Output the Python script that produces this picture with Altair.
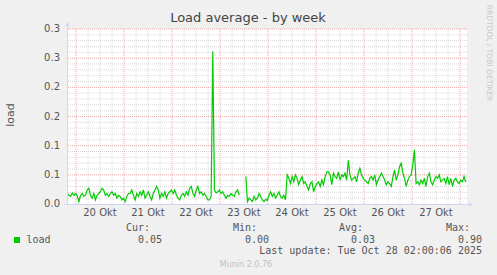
import json
import altair as alt
import pandas as pd

# ---- series values (load average, ~50 min steps) ----
load = [
    # 19-21 Okt
    0.018, 0.015, 0.013, 0.019, 0.015, 0.018, 0.014, 0.004, 0.015, 0.018,
    0.013, 0.015, 0.024, 0.027, 0.015, 0.010, 0.018, 0.007, 0.015, 0.018,
    0.021, 0.027, 0.024, 0.015, 0.018, 0.013, 0.018, 0.021, 0.015, 0.018,
    0.010, 0.015, 0.013, 0.007, 0.010, 0.004, 0.013, 0.018,
    # 21-22 Okt
    0.018, 0.024, 0.015, 0.007, 0.018, 0.013, 0.021, 0.015, 0.024, 0.010,
    0.015, 0.021, 0.013, 0.007, 0.018, 0.024, 0.030, 0.024, 0.010, 0.018,
    0.013, 0.021, 0.010, 0.018, 0.021, 0.024, 0.018, 0.024, 0.015, 0.010,
    0.007, 0.015, 0.018, 0.013, 0.021, 0.015, 0.027, 0.030, 0.018, 0.013,
    # 22-23 Okt (spike, gap)
    0.024, 0.030, 0.018, 0.021, 0.015, 0.018, 0.013, 0.007, 0.007, 0.013,
    0.262, 0.024, 0.019, 0.021, 0.024, 0.018, 0.021, 0.015, 0.010, 0.015,
    0.013, 0.018, 0.015, 0.013, 0.021, 0.024, 0.015, None, None, None,
    0.047, 0.004, 0.010, 0.007, 0.004, 0.013, 0.007, 0.010, 0.018, 0.013,
    # 23-25 Okt
    0.007, 0.004, 0.008, 0.006, 0.015, 0.021, 0.013, 0.018, 0.010, 0.015,
    0.021, 0.013, 0.010, 0.015, 0.007, 0.050, 0.044, 0.035, 0.047, 0.038,
    0.050, 0.044, 0.033, 0.041, 0.047, 0.035, 0.038, 0.030, 0.024, 0.035,
    0.038, 0.021, 0.030, 0.035, 0.038, 0.030, 0.041, 0.033, 0.047, 0.055,
    # 25-26 Okt
    0.055, 0.050, 0.033, 0.053, 0.047, 0.044, 0.055, 0.041, 0.050, 0.047,
    0.053, 0.041, 0.075, 0.050, 0.041, 0.044, 0.047, 0.038, 0.053, 0.061,
    0.050, 0.044, 0.041, 0.038, 0.035, 0.044, 0.047, 0.041, 0.050, 0.033,
    0.041, 0.047, 0.053, 0.047, 0.041, 0.033, 0.038, 0.035, 0.030, 0.047,
    # 26-28 Okt
    0.058, 0.041, 0.050, 0.064, 0.070, 0.053, 0.044, 0.030, 0.041, 0.047,
    0.050, 0.067, 0.093, 0.035, 0.038, 0.033, 0.041, 0.035, 0.044, 0.030,
    0.047, 0.053, 0.038, 0.033, 0.041, 0.047, 0.044, 0.050, 0.038, 0.041,
    0.044, 0.035, 0.047, 0.033, 0.044, 0.030, 0.041, 0.044, 0.038, 0.035,
    0.041, 0.038, 0.047, 0.038,
]
series_start = "2025-10-19 19:40"
series_end = "2025-10-28 02:50"

# ---- axes / labels ----
day_numbers = [20, 21, 22, 23, 24, 25, 26, 27]
day_labels = ["20 Okt", "21 Okt", "22 Okt", "23 Okt", "24 Okt", "25 Okt", "26 Okt", "27 Okt"]
midnight_days = [20, 21, 22, 23, 24, 25, 26, 27, 28]
minor_hours = [6, 12, 18]
y_ticks = [0.0, 0.05, 0.10, 0.15, 0.20, 0.25, 0.30]
y_tick_labels = ["0.0", "0.1", "0.1", "0.2", "0.2", "0.3", "0.3"]
y_major = [0.05, 0.10, 0.15, 0.20, 0.25, 0.30]
y_minor = [0.01, 0.02, 0.03, 0.04, 0.06, 0.07, 0.08, 0.09, 0.11, 0.12, 0.13, 0.14,
           0.16, 0.17, 0.18, 0.19, 0.21, 0.22, 0.23, 0.24, 0.26, 0.27, 0.28, 0.29]

title_text = "Load average - by week"
y_title = "load"
legend_name = "load"
legend_heads = ["Cur:", "Min:", "Avg:", "Max:"]
legend_values = ["0.05", "0.00", "0.03", "0.90"]
last_update = "Last update: Tue Oct 28 02:00:06 2025"
footer = "Munin 2.0.76"
side_text = "RRDTOOL / TOBI OETIKER"

# ---- styling ----
W, H = 400, 175
GREEN = "#00CC00"
AXISC = "#CFD6F8"
FONTC = "#555555"
SANS = "DejaVu Sans"
MONO = "DejaVu Sans Mono"

times = pd.date_range(series_start, series_end, periods=len(load))
seg, s = [], 0
for v in load:
    if v is None:
        s += 1
    seg.append(s)
df = pd.DataFrame({"t": times, "load": load, "seg": seg}).dropna()

xscale = alt.Scale(domain=[
    alt.DateTime(year=2025, month=10, date=19, hours=19, minutes=30),
    alt.DateTime(year=2025, month=10, date=28, hours=3, minutes=30),
])
yscale = alt.Scale(domain=[0, 0.3], nice=False, zero=True)

major_t = pd.DataFrame({"t": [pd.Timestamp(2025, 10, d) for d in midnight_days]})
minor_t = pd.DataFrame({"t": [pd.Timestamp(2025, 10, d, h) for d in day_numbers for h in minor_hours]})
noon_t = pd.DataFrame({"t": [pd.Timestamp(2025, 10, d, 12) for d in day_numbers], "label": day_labels})
ytick_df = pd.DataFrame({"v": y_ticks, "label": y_tick_labels})

dash = [1, 1]
vminor = alt.Chart(minor_t).mark_rule(color="#d8d8d8", strokeDash=dash, strokeWidth=1).encode(
    x=alt.X("t:T", scale=xscale, axis=None))
hminor = alt.Chart(pd.DataFrame({"v": y_minor})).mark_rule(color="#d8d8d8", strokeDash=dash, strokeWidth=1).encode(
    y=alt.Y("v:Q", scale=yscale, axis=None))
vmajor = alt.Chart(major_t).mark_rule(color="#e8a8a8", strokeDash=dash, strokeWidth=1).encode(
    x=alt.X("t:T", scale=xscale, axis=None))
hmajor = alt.Chart(pd.DataFrame({"v": y_major})).mark_rule(color="#e8a8a8", strokeDash=dash, strokeWidth=1).encode(
    y=alt.Y("v:Q", scale=yscale, axis=None))

line = alt.Chart(df).mark_line(color=GREEN, strokeWidth=1.2, interpolate="linear").encode(
    x=alt.X("t:T", scale=xscale, axis=None),
    y=alt.Y("load:Q", scale=yscale, axis=None),
    detail="seg:N",
)

day_text = alt.Chart(noon_t).mark_text(font=SANS, fontSize=10, color=FONTC, baseline="alphabetic",
                                       align="center").encode(
    x=alt.X("t:T", scale=xscale, axis=None), y=alt.value(187), text="label:N")

ytick_text = alt.Chart(ytick_df).mark_text(font=SANS, fontSize=10, color=FONTC, baseline="middle",
                                           align="right").encode(
    y=alt.Y("v:Q", scale=yscale, axis=None), x=alt.value(-7), text="label:N")

one = pd.DataFrame({"k": [0]})


def txt(s, x, y, **kw):
    return alt.Chart(one).mark_text(text=s, **kw).encode(x=alt.value(x), y=alt.value(y))


axes = [
    alt.Chart(one).mark_rule(color=AXISC, strokeWidth=1).encode(
        x=alt.value(0.5), y=alt.value(-3), y2=alt.value(175.5)),
    alt.Chart(one).mark_rule(color=AXISC, strokeWidth=1).encode(
        x=alt.value(-3), x2=alt.value(402), y=alt.value(175.5)),
    alt.Chart(one).mark_point(shape="triangle-up", filled=True, color=AXISC, size=22, opacity=1).encode(
        x=alt.value(0.5), y=alt.value(-5)),
    alt.Chart(one).mark_point(shape="triangle-right", filled=True, color=AXISC, size=22, opacity=1).encode(
        x=alt.value(404), y=alt.value(175.5)),
]

texts = [
    txt(title_text, 181, -7, font=SANS, fontSize=13, color="#444444", align="center", baseline="alphabetic"),
    txt(y_title, -56.5, 86, font=SANS, fontSize=11, color=FONTC, align="center", baseline="middle", angle=270),
    txt(side_text, 421.5, 24, font=SANS, fontSize=7.5, color="#c8c8c8", align="center", baseline="middle", angle=90),
    alt.Chart(one).mark_square(color=GREEN, size=36, opacity=1).encode(x=alt.value(-50), y=alt.value(211)),
    txt(legend_name, -40.5, 213.5, font=MONO, fontSize=10, color=FONTC, align="left", baseline="alphabetic"),
    txt(last_update, 415, 224.5, font=MONO, fontSize=10, color=FONTC, align="right", baseline="alphabetic"),
    txt(footer, 179, 237.5, font=SANS, fontSize=8, color="#c0c0c0", align="center", baseline="alphabetic"),
]
head_right = [83, 190, 296, 403]
for h, v, xr in zip(legend_heads, legend_values, head_right):
    texts.append(txt(h, xr, 202, font=MONO, fontSize=10, color=FONTC, align="right", baseline="alphabetic"))
    texts.append(txt(v, xr + 12, 213.5, font=MONO, fontSize=10, color=FONTC, align="right", baseline="alphabetic"))

chart = alt.layer(
    vminor, hminor, vmajor, hmajor, line, day_text, ytick_text, *axes, *texts
).properties(
    width=W, height=H,
    padding={"left": 67, "top": 29, "right": 30, "bottom": 71},
    autosize=alt.AutoSizeParams(type="none"),
    background="#F0F0F0",
).configure_view(fill="white", strokeWidth=0)

chart.save("out.html", embed_options={"renderer": "svg", "actions": False})
